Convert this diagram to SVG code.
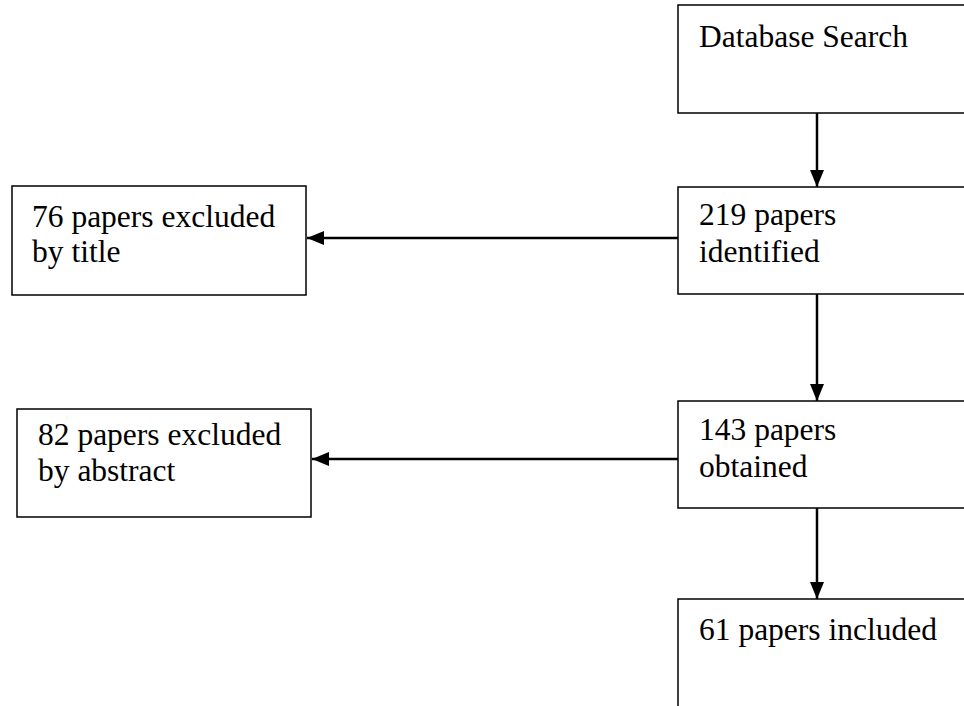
<svg xmlns="http://www.w3.org/2000/svg" width="964" height="706" viewBox="0 0 964 706">
<style>
.box{fill:#fff;stroke:#000;stroke-width:1.5}
.t{font-family:'Liberation Serif','Times New Roman',serif;font-size:31.5px;fill:#000}
.c{stroke:#000;stroke-width:2.5;fill:none;marker-end:url(#ah)}
</style>
<defs>
<marker id="ah" markerUnits="userSpaceOnUse" markerWidth="18" markerHeight="16" refX="17" refY="7" orient="auto">
<path d="M0,0 L17,7 L0,14 Z" fill="#000"/>
</marker>
</defs>
<rect width="964" height="706" fill="#fff"/>
<g id="connectors">
<line class="c" x1="817" y1="113" x2="817" y2="187"/>
<line class="c" x1="817" y1="294" x2="817" y2="401"/>
<line class="c" x1="817" y1="508" x2="817" y2="599"/>
<line class="c" x1="678" y1="238" x2="307" y2="238"/>
<line class="c" x1="678" y1="459" x2="312" y2="459"/>
</g>
<g id="database-search">
<rect class="box" x="678" y="5" width="300" height="108"/>
<text class="t" x="699" y="47">Database Search</text>
</g>
<g id="identified">
<rect class="box" x="678" y="187" width="300" height="107"/>
<text class="t" x="699" y="225">219 papers</text>
<text class="t" x="699" y="262">identified</text>
</g>
<g id="obtained">
<rect class="box" x="678" y="401" width="300" height="107"/>
<text class="t" x="699" y="440">143 papers</text>
<text class="t" x="699" y="477">obtained</text>
</g>
<g id="included">
<rect class="box" x="678" y="599" width="300" height="120"/>
<text class="t" x="699" y="640">61 papers included</text>
</g>
<g id="excluded-title">
<rect class="box" x="12" y="186" width="294" height="109"/>
<text class="t" x="32" y="227">76 papers excluded</text>
<text class="t" x="32" y="262">by title</text>
</g>
<g id="excluded-abstract">
<rect class="box" x="17" y="409" width="294" height="108"/>
<text class="t" x="38" y="445">82 papers excluded</text>
<text class="t" x="38" y="481">by abstract</text>
</g>
</svg>
